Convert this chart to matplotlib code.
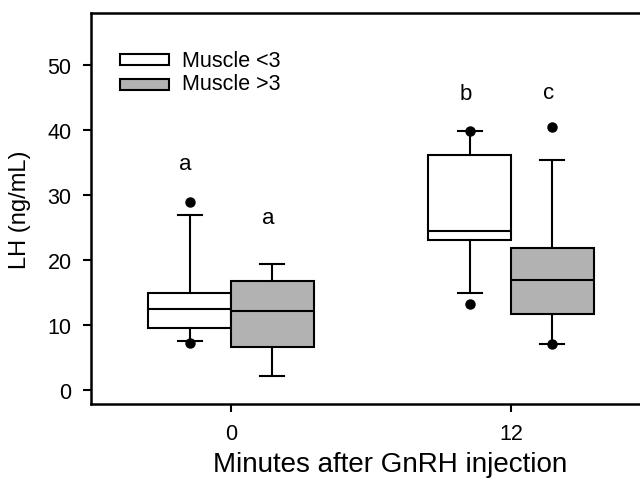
import numpy as np
import matplotlib.pyplot as plt

plt.rcParams['font.family'] = ['Liberation Sans', 'DejaVu Sans']

# Data
groups = ['0', '12']
labels = ['Muscle <3', 'Muscle >3']
colors = ['white', '#b2b2b2']

# per series: values for group 0 and group 12
whislo = [[7.6, 14.9], [2.1, 7.1]]
q1 = [[9.5, 23.1], [6.6, 11.7]]
med = [[12.4, 24.5], [12.2, 16.9]]
q3 = [[15.0, 36.2], [16.7, 21.8]]
whishi = [[27.0, 39.8], [19.4, 35.4]]
fliers = [[[29.0, 7.3], [39.8, 13.2]], [[], [40.4, 7.1]]]

letters = [['a', 'b'], ['a', 'c']]
letter_y = [[34.8, 45.6], [26.5, 45.8]]

fig = plt.figure(figsize=(6.4, 4.81), dpi=100)
ax = fig.add_axes([91 / 640, 76 / 481, 560 / 640, 391 / 481])

width = 0.296
lw = 1.5
x = np.arange(len(groups))
for s in range(2):
    stats = []
    for g in range(len(groups)):
        stats.append(dict(med=med[s][g], q1=q1[s][g], q3=q3[s][g],
                          whislo=whislo[s][g], whishi=whishi[s][g],
                          fliers=fliers[s][g]))
    pos = x + (s - 0.5) * width
    ax.bxp(stats, positions=pos, widths=width, capwidths=0.086,
           patch_artist=True, manage_ticks=False,
           boxprops=dict(facecolor=colors[s], edgecolor='black', linewidth=lw),
           medianprops=dict(color='black', linewidth=lw),
           whiskerprops=dict(color='black', linewidth=lw),
           capprops=dict(color='black', linewidth=lw),
           flierprops=dict(marker='o', markerfacecolor='black',
                           markeredgecolor='black', markersize=6.5))
    for g in range(len(groups)):
        ax.text(pos[g] - 0.015, letter_y[s][g], letters[s][g], ha='center',
                va='center', fontsize=16)

# legend boxes
for s in range(2):
    ax.add_patch(plt.Rectangle((0.052, 0.866 - s * 0.062), 0.088, 0.028,
                               transform=ax.transAxes, facecolor=colors[s],
                               edgecolor='black', linewidth=lw))
    ax.text(0.162, 0.879 - s * 0.059, labels[s], transform=ax.transAxes,
            va='center', ha='left', fontsize=15.5)

ax.set_xlim(-0.5, 1.5)
ax.set_ylim(-2.15, 58)
ax.set_xticks(x)
ax.set_xticklabels(groups)
ax.set_yticks([0, 10, 20, 30, 40, 50])
ax.tick_params(direction='out', length=6, width=1.5, labelsize=15.5, pad=8)
for sp in ax.spines.values():
    sp.set_linewidth(1.8)
ax.set_xlabel('Minutes after GnRH injection', fontsize=20, labelpad=5)
ax.xaxis.label.set_x(0.534)
ax.set_ylabel('LH (ng/mL)', fontsize=17, labelpad=12)

fig.savefig('out.png', dpi=100)
